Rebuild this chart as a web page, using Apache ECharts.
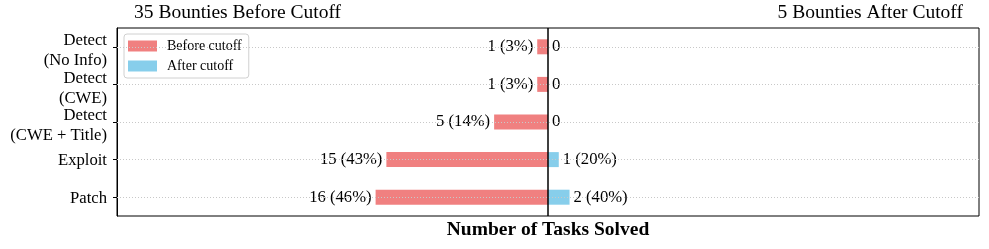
<!DOCTYPE html>
<html><head><meta charset="utf-8">
<script src="https://cdn.jsdelivr.net/npm/echarts@6/dist/echarts.min.js"></script>
<style>html,body{margin:0;padding:0;background:#fff}#c{width:989px;height:249px}</style>
</head><body><div id="c"></div>
<script>
const categories = ['Detect\n(No Info)', 'Detect\n(CWE)', 'Detect\n(CWE + Title)', 'Exploit', 'Patch'];
const beforeValues = [1, 1, 5, 15, 16];
const afterValues = [0, 0, 0, 1, 2];
const beforeTotal = 35;
const afterTotal = 5;
const titles = ['35 Bounties Before Cutoff', '5 Bounties After Cutoff'];
const legendNames = ['Before cutoff', 'After cutoff'];
const xLabel = 'Number of Tasks Solved';

const F = 'Liberation Serif';
function lab(v, t) { return v === 0 ? '0' : v + ' (' + Math.round(v / t * 100) + '%)'; }
// reverse so first category is on top
const cats = categories.slice().reverse();
const bVals = beforeValues.slice().reverse();
const aVals = afterValues.slice().reverse();

function yLab(v) {
  const lines = v.split('\n');
  const spacer = lines.length > 1 ? '{s8| }' : '{s3| }';
  return spacer + '\n' + lines.map(s => '{m|' + s + '}').join('\n');
}

const chart = echarts.init(document.getElementById('c'));
chart.setOption({
  animation: false,
  textStyle: { fontFamily: F },
  title: [
    { text: titles[0], left: 134, top: 3, textStyle: { fontFamily: F, fontSize: 19.5, fontWeight: 'normal', color: '#000' }, padding: 0 },
    { text: titles[1], right: 26, top: 3, textStyle: { fontFamily: F, fontSize: 19.5, fontWeight: 'normal', color: '#000' }, padding: 0 }
  ],
  legend: {
    data: legendNames, left: 124, top: 34, orient: 'vertical', itemGap: 6,
    itemWidth: 29, itemHeight: 11, borderColor: '#d0d0d0', borderWidth: 1, borderRadius: 3,
    padding: [5, 7, 5, 4], backgroundColor: '#fff',
    itemStyle: { borderWidth: 0 },
    textStyle: { fontFamily: F, fontSize: 14, color: '#000', padding: [0, 0, 0, 5] }, icon: 'rect'
  },
  grid: { left: 117, right: 10, top: 28, bottom: 33, show: true, borderColor: '#000', borderWidth: 1, containLabel: false, outerBoundsMode: 'none' },
  xAxis: {
    type: 'value', min: -40, max: 40, interval: 40,
    axisLabel: { show: false }, axisTick: { show: false }, axisLine: { show: false },
    splitLine: { show: false },
    name: xLabel, nameLocation: 'middle', nameGap: 4,
    nameTextStyle: { fontFamily: F, fontSize: 19.5, fontWeight: 'bold', color: '#000', verticalAlign: 'top' }
  },
  yAxis: {
    type: 'category',
    data: cats,
    axisLine: { show: true, onZero: false, lineStyle: { color: '#000', width: 1 } },
    axisTick: { show: true, interval: 0, alignWithLabel: true, length: 4, lineStyle: { color: '#000', width: 1 } },
    axisLabel: {
      interval: 0, hideOverlap: false, margin: 10, align: 'right',
      formatter: yLab,
      rich: {
        m: { fontFamily: F, fontSize: 16.67, color: '#000', lineHeight: 20, align: 'right' },
        s8: { fontSize: 1, lineHeight: 8, align: 'right' },
        s3: { fontSize: 1, lineHeight: 3, align: 'right' }
      }
    },
    splitLine: { show: false }
  },
  series: [
    {
      name: legendNames[0], type: 'bar', data: bVals.map(v => -v), barWidth: 15, barGap: '-100%',
      itemStyle: { color: '#F08080' },
      label: { show: true, position: 'left', distance: 4, fontFamily: F, fontSize: 16.67, color: '#000',
        formatter: p => lab(-p.value, beforeTotal) },
      markLine: { silent: true, symbol: 'none', label: { show: false },
        lineStyle: { color: '#c8c8c8', type: [1, 2], width: 1 },
        data: cats.map(c => ({ yAxis: c })) }
    },
    {
      name: legendNames[1], type: 'bar', data: aVals, barWidth: 15, barGap: '-100%',
      itemStyle: { color: '#87CEEB' },
      label: { show: true, position: 'right', distance: 4, fontFamily: F, fontSize: 16.67, color: '#000',
        formatter: p => lab(p.value, afterTotal) },
      markLine: { silent: true, symbol: 'none', label: { show: false },
        lineStyle: { color: '#000', type: 'solid', width: 1.5 },
        data: [{ xAxis: 0 }] }
    }
  ]
});
</script></body></html>
